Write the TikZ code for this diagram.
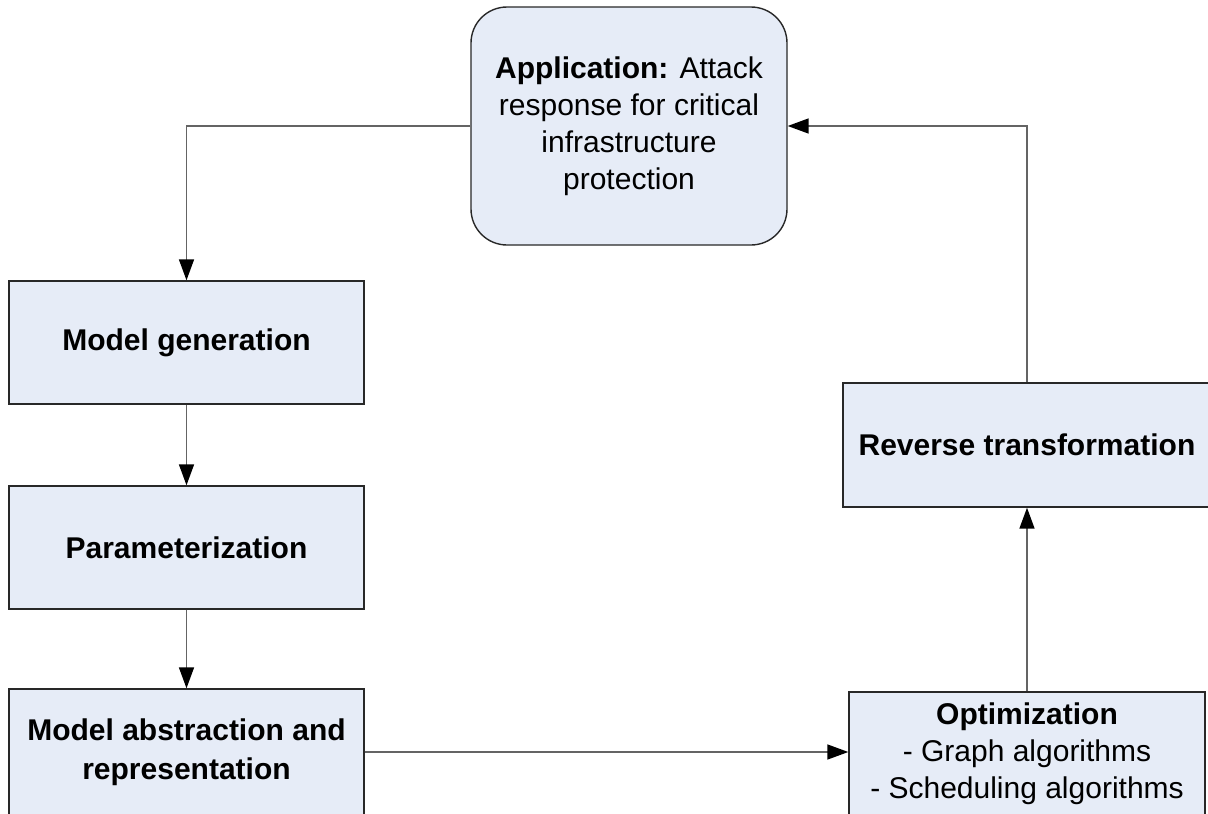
\documentclass[tikz,border=0pt]{standalone}
\usepackage{fontspec}
\setmainfont{Liberation Sans}
\usetikzlibrary{arrows.meta}
\definecolor{boxfill}{RGB}{230,236,247}
\definecolor{boxline}{RGB}{40,40,40}
\definecolor{conline}{RGB}{100,100,100}
\tikzset{
  blk/.style={draw=boxline, fill=boxfill, line width=1.4pt, inner sep=0pt, align=center,
    font=\fontsize{30}{37}\selectfont},
  arr/.style={draw=conline, line width=1.6pt, -{Triangle[length=21pt,width=15pt,fill=black,color=black]}},
}
\begin{document}
\begin{tikzpicture}[x=1pt,y=-1pt]
\useasboundingbox (0,0) rectangle (1208,814);
\clip (0,0) rectangle (1208,814);
\node[blk, rounded corners=36pt, minimum width=316pt, minimum height=238pt] (app) at (629,126)
  {\textbf{Application:} Attack\\response for critical\\infrastructure\\protection};
\node[blk, font=\bfseries\fontsize{30}{37}\selectfont, minimum width=355pt, minimum height=123pt] (mg) at (186.5,342.5) {Model generation};
\node[blk, font=\bfseries\fontsize{30}{37}\selectfont, minimum width=355pt, minimum height=123pt] (par) at (186.5,547.5) {Parameterization};
\node[blk, font=\bfseries\fontsize{30}{39}\selectfont, minimum width=355pt, minimum height=126pt] (abs) at (186.5,752) {Model abstraction and\\representation};
\node[blk, font=\bfseries\fontsize{30}{37}\selectfont, minimum width=368pt, minimum height=124pt] (rev) at (1027,445) {Reverse transformation};
\node[blk, minimum width=356pt, minimum height=124pt] (opt) at (1027,754)
  {\textbf{Optimization}\\- Graph algorithms\\- Scheduling algorithms};
\draw[arr] (app.west) -| (mg.north);
\draw[arr] (mg.south) -- (par.north);
\draw[arr] (par.south) -- (abs.north);
\draw[arr] (abs.east) -- (abs.east -| opt.west);
\draw[arr] (opt.north) -- (rev.south);
\draw[arr] (rev.north) |- (app.east);
\end{tikzpicture}
\end{document}
